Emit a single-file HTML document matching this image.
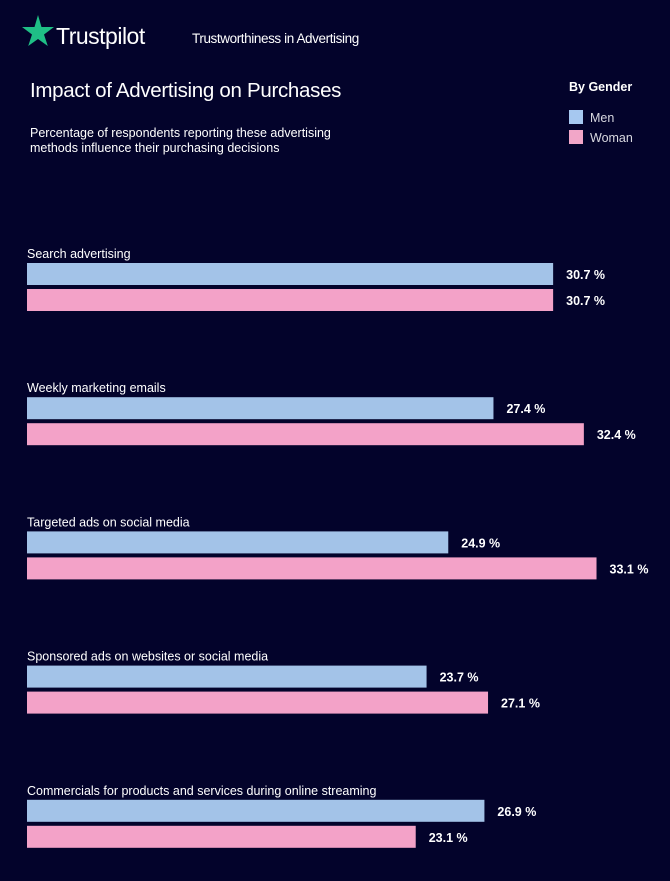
<!DOCTYPE html>
<html><head><meta charset="utf-8"><style>
body{margin:0;background:#03032b;width:670px;height:881px;overflow:hidden;font-family:"Liberation Sans",sans-serif;color:#fff}
svg{display:block}
</style></head><body>
<svg width="670" height="881">
<rect width="670" height="881" fill="#03032b"/>
<polygon fill="#1fbf86" points="38,15 41.5,27 54,27 44,34.5 47.8,46 38,39 28.2,46 32,34.5 22,27 34.5,27"/>
<text x="56" y="44" font-size="23" fill="#fff" letter-spacing="-0.5">Trustpilot</text>
<text x="192" y="43" font-size="13.5" fill="#fff" letter-spacing="-0.4">Trustworthiness in Advertising</text>
<text x="30" y="97" font-size="20.5" fill="#fff" letter-spacing="-0.3">Impact of Advertising on Purchases</text>
<text x="30" y="137" font-size="12.5" fill="#fff">Percentage of respondents reporting these advertising</text>
<text x="30" y="152" font-size="12.5" fill="#fff">methods influence their purchasing decisions</text>
<text x="569" y="91" font-size="12.5" font-weight="bold" fill="#fff">By Gender</text>
<rect x="569" y="110" width="14" height="14" fill="#a6c8f0"/>
<text x="590" y="122" font-size="12.5" fill="#d8d8e0">Men</text>
<rect x="569" y="130" width="14" height="14" fill="#f2a6c8"/>
<text x="590" y="142" font-size="12.5" fill="#d8d8e0">Woman</text>
<g id="bars"></g>
</svg>
<script>
const categories=["Search advertising","Weekly marketing emails","Targeted ads on social media","Sponsored ads on websites or social media","Commercials for products and services during online streaming"];
const menValues=[30.7,27.4,24.9,23.7,26.9];
const womanValues=[30.7,32.4,33.1,27.1,23.1];
const NS="http://www.w3.org/2000/svg";
const g=document.getElementById('bars');
function xScale(v){return 27+(v-1.6)*18.08;}
function yGroup(i){return 253+i*134.2;}
function mk(tag,attrs){const e=document.createElementNS(NS,tag);for(const k in attrs)e.setAttribute(k,attrs[k]);g.appendChild(e);return e;}
categories.forEach((c,i)=>{
  const y0=yGroup(i);
  const t=mk('text',{x:27,y:y0+5,'font-size':12.5,fill:'#fff'});
  t.textContent=c;
  
  
  [[menValues[i],'#a3c3e8',10,'bar-men'],[womanValues[i],'#f3a2c8',36,'bar-woman']].forEach(([v,col,off,nm])=>{
    const w=xScale(v)-27;
    const r=mk('rect',{x:27,y:y0+off,width:w,height:22,fill:col});
    
    
    const l=mk('text',{x:27+w+13,y:y0+off+16,'font-size':12.5,'font-weight':'bold',fill:'#fff'});
    l.textContent=v.toFixed(1)+' %';
    
    
  });
});
</script>
</body></html>
